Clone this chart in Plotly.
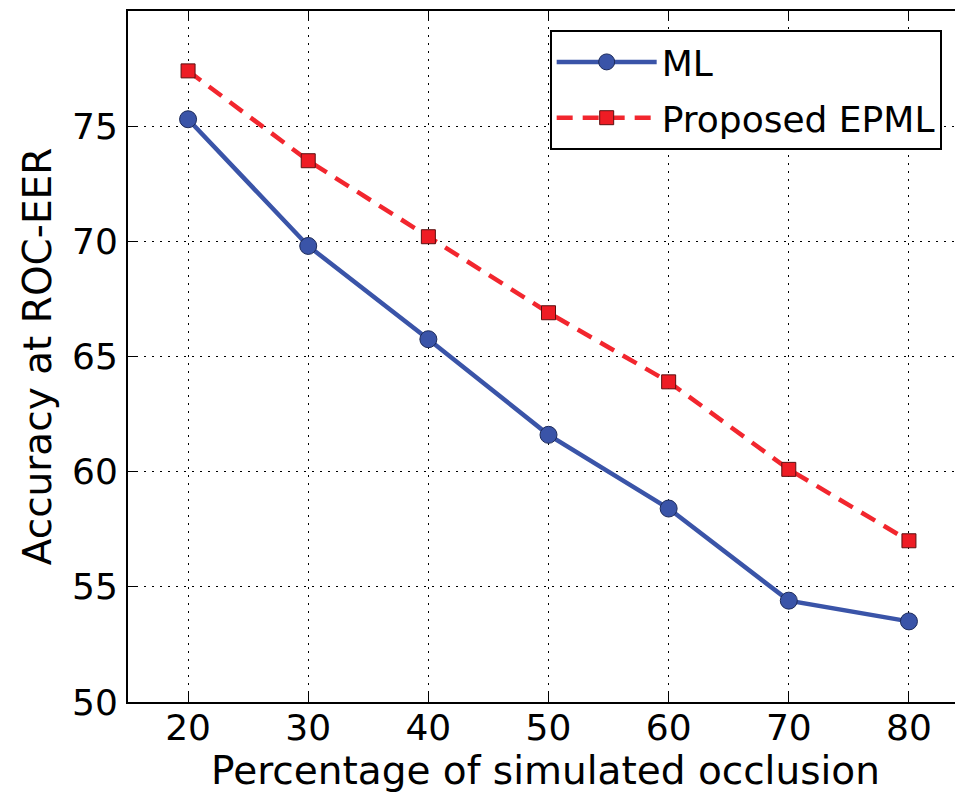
import plotly.graph_objects as go

occlusion = [20, 30, 40, 50, 60, 70, 80]
acc_ml = [75.3, 69.8, 65.75, 61.6, 58.4, 54.4, 53.5]
acc_epml = [77.4, 73.5, 70.2, 66.9, 63.9, 60.1, 57.0]

FONT = "DejaVu Sans"

fig = go.Figure()

fig.add_trace(go.Scatter(
    x=occlusion, y=acc_ml, mode="lines+markers", name="ML",
    legendgroup="a",
    line=dict(color="#3a54a8", width=4.5),
    marker=dict(symbol="circle", size=17, color="#3a54a8",
                line=dict(color="#1c2a5a", width=1)),
))
fig.add_trace(go.Scatter(
    x=occlusion, y=acc_epml, mode="lines+markers", name="Proposed EPML",
    legendgroup="b",
    line=dict(color="#f2262e", width=4.5, dash="16px,10px"),
    marker=dict(symbol="square", size=14, color="#ee1c24",
                line=dict(color="#5a1010", width=1)),
))

# page body adds 8px around the figure, so shrink to fit the window
fig.update_layout(
    width=955, height=789,
    margin=dict(l=120, r=0, t=3, b=95),
    plot_bgcolor="white",
    paper_bgcolor="white",
    font=dict(family=FONT, color="black"),
    showlegend=True,
    legend=dict(
        x=0.505, y=0.9725, xanchor="left", yanchor="top",
        bordercolor="black", borderwidth=2, bgcolor="white",
        font=dict(size=36, family=FONT),
        itemwidth=100,
        tracegroupgap=6,
    ),
)

fig.update_xaxes(
    range=[15, 84.5], tickvals=occlusion,
    showline=True, linecolor="black", linewidth=2, mirror="ticks",
    ticks="inside", ticklen=9, tickcolor="black", tickwidth=1,
    tickfont=dict(size=36, family=FONT), ticklabelstandoff=-7,
    showgrid=True, gridcolor="black", gridwidth=1, griddash="2px,6px",
    zeroline=False,
    title=dict(text="Percentage of simulated occlusion",
               font=dict(size=39, family=FONT), standoff=6),
)
fig.update_yaxes(
    range=[50, 80], tickvals=[50, 55, 60, 65, 70, 75],
    showline=True, linecolor="black", linewidth=2, mirror=False,
    ticks="inside", ticklen=9, tickcolor="black", tickwidth=1,
    tickfont=dict(size=36, family=FONT), ticklabelstandoff=1,
    showgrid=True, gridcolor="black", gridwidth=1, griddash="2px,6px",
    zeroline=False,
    title=dict(text="Accuracy at ROC-EER",
               font=dict(size=39, family=FONT), standoff=8),
)

fig.write_html("out.html")
